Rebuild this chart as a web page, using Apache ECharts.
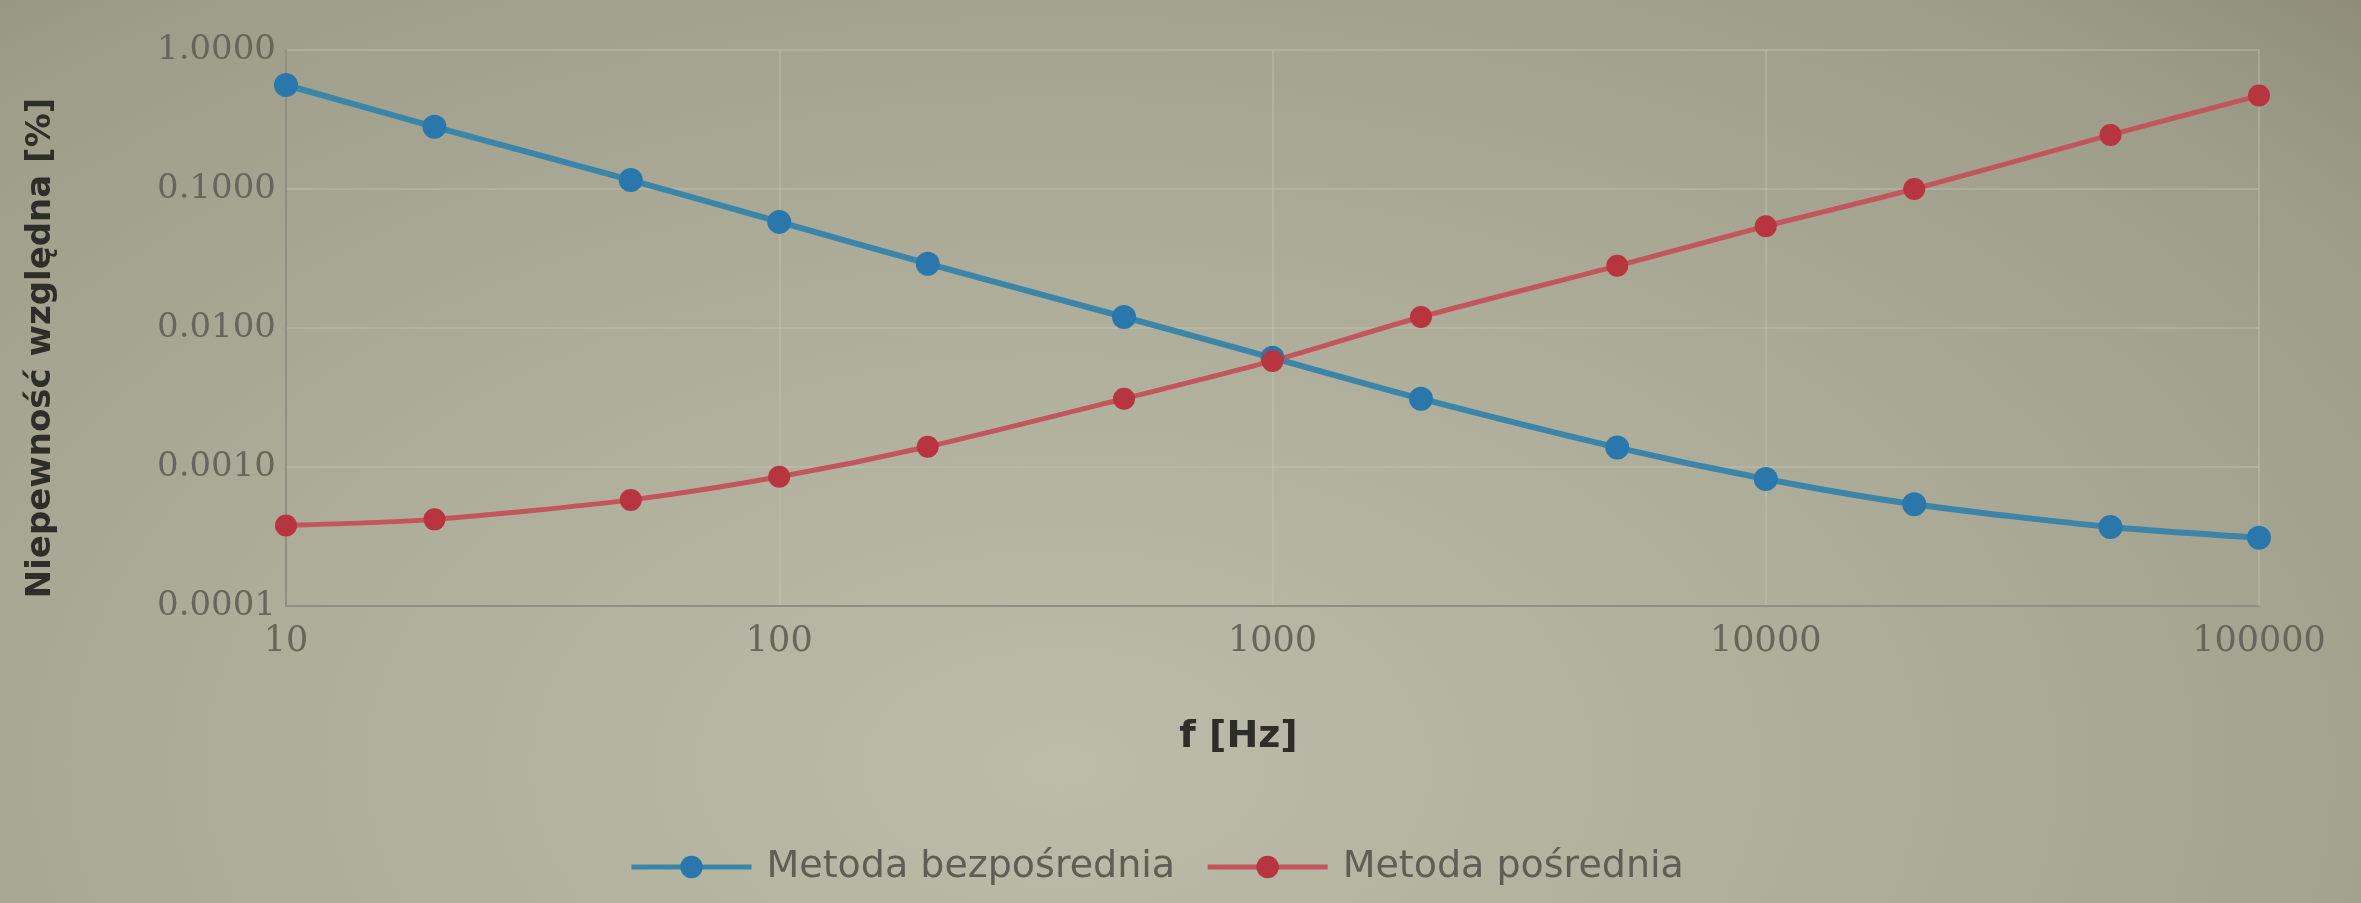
<!DOCTYPE html>
<html>
<head>
<meta charset="utf-8">
<script src="https://cdn.jsdelivr.net/npm/echarts@6/dist/echarts.min.js"></script>
<style>
html,body{margin:0;padding:0;width:2361px;height:903px;overflow:hidden;
background:radial-gradient(ellipse at 45% 85%, #bbbca9 0%, #adad9a 45%, #9e9d8a 85%, #8f8c7b 100%);}
#c{width:2361px;height:903px;}
</style>
</head>
<body>
<div id="c"></div>
<script>
const freqs = [10, 20, 50, 100, 200, 500, 1000, 2000, 5000, 10000, 20000, 50000, 100000];
const direct = [0.56, 0.28, 0.116, 0.058, 0.029, 0.012, 0.0061, 0.0031, 0.00138, 0.00082, 0.00054, 0.00037, 0.00031];
const indirect = [0.00038, 0.00042, 0.00058, 0.00085, 0.0014, 0.0031, 0.0058, 0.012, 0.028, 0.054, 0.10, 0.245, 0.47];
const seriesNames = ['Metoda bezpośrednia', 'Metoda pośrednia'];
const xTitle = 'f [Hz]';
const yTitle = 'Niepewność względna [%]';

const chart = echarts.init(document.getElementById('c'), null, {renderer: 'canvas'});
const pair = (xs, ys) => xs.map((x, i) => [x, ys[i]]);
chart.setOption({
  backgroundColor: 'transparent',
  animation: false,
  grid: {left: 286, right: 102, top: 50, bottom: 297, containLabel: false},
  xAxis: {
    type: 'log', logBase: 10, min: 10, max: 100000,
    name: xTitle, nameLocation: 'middle', nameGap: 112,
    nameTextStyle: {fontFamily: 'DejaVu Sans', fontWeight: 'bold', fontSize: 38, color: '#2e2e28',
      padding: [0, 68, 0, 0]},
    axisLine: {show: true, lineStyle: {color: '#8f8f82', width: 2}},
    axisTick: {show: false},
    axisLabel: {fontFamily: 'DejaVu Serif', fontSize: 35, color: '#66665c', margin: 18,
      formatter: v => String(Math.round(v))},
    splitLine: {show: true, lineStyle: {color: 'rgba(200,200,185,0.35)', width: 2}},
    minorTick: {show: false}
  },
  yAxis: {
    type: 'log', logBase: 10, min: 0.0001, max: 1,
    name: yTitle, nameLocation: 'middle', nameGap: 228,
    nameTextStyle: {fontFamily: 'DejaVu Sans', fontWeight: 'bold', fontSize: 34, color: '#2e2e28',
      padding: [0, 40, 0, 0]},
    axisLine: {show: true, lineStyle: {color: '#8f8f82', width: 2}},
    axisTick: {show: false},
    axisLabel: {fontFamily: 'DejaVu Serif', fontSize: 34, color: '#66665c', margin: 10,
      formatter: v => v.toFixed(4)},
    splitLine: {show: true, lineStyle: {color: 'rgba(200,200,185,0.35)', width: 2}}
  },
  legend: {
    bottom: 12, left: 624, itemWidth: 120, itemHeight: 28, itemGap: 30,
    lineStyle: {width: 5},
    textStyle: {fontFamily: 'DejaVu Sans', fontSize: 38, color: '#5e5e55', padding: [0, 0, 0, 10]},
    data: seriesNames
  },
  series: [
    {
      name: seriesNames[0], type: 'line', data: pair(freqs, direct), smooth: 0.25,
      symbol: 'circle', symbolSize: 24,
      lineStyle: {color: '#3b86a8', width: 6},
      itemStyle: {color: '#2a78ab'}
    },
    {
      name: seriesNames[1], type: 'line', data: pair(freqs, indirect), smooth: 0.25,
      symbol: 'circle', symbolSize: 22,
      lineStyle: {color: '#c2565c', width: 5},
      itemStyle: {color: '#b8343e'}
    }
  ]
});
</script>
</body>
</html>
